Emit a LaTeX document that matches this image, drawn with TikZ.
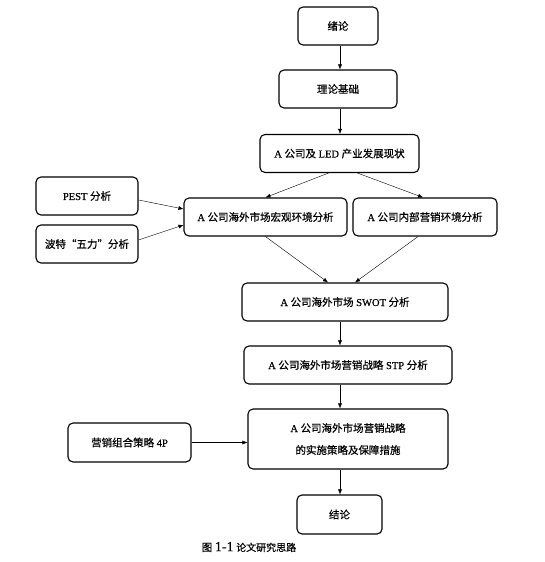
\documentclass[tikz,border=0pt]{standalone}
\usepackage{fontspec}
\setmainfont{Liberation Serif}[FakeBold=0.5]
\newfontfamily\cjk{Noto Sans CJK SC}[FakeBold=0.6]
\usetikzlibrary{arrows.meta}

\begin{document}
\begin{tikzpicture}[x=1pt,y=-1pt,>={Latex[length=5pt,width=4pt]},
  every node/.style={font=\fontsize{10.5}{13}\selectfont,align=center},
  stepbox/.style={draw,line width=1.1pt,rounded corners=5pt,inner sep=0pt,minimum height=38pt}]
\useasboundingbox (0,0) rectangle (545,562);
\coordinate (axis) at (340,0);
\node (intro) [stepbox,minimum width=80pt] at (338,26) {\cjk 绪论};
\node (theory) [stepbox,minimum width=118pt] at (338,89) {\cjk 理论基础};
\node (status) [stepbox,minimum width=159pt] at (339.5,153.5) {A {\cjk 公司及} LED {\cjk 产业发展现状}};
\node (pest) [stepbox,minimum width=102pt] at (87,196) {PEST {\cjk 分析}};
\node (porter) [stepbox,minimum width=102pt] at (87,244) {\cjk 波特“五力”分析};
\node (macro) [stepbox,minimum width=163pt] at (265.5,217) {A {\cjk 公司海外市场宏观环境分析}};
\node (inner) [stepbox,minimum width=144pt] at (425,217) {A {\cjk 公司内部营销环境分析}};
\node (swot) [stepbox,minimum width=206pt] at (345,302) {A {\cjk 公司海外市场} SWOT {\cjk 分析}};
\node (stp) [stepbox,minimum width=208pt] at (348,365) {A {\cjk 公司海外市场营销战略} STP {\cjk 分析}};
\node (impl) [stepbox,minimum width=200pt,minimum height=60pt] at (348,439) {A {\cjk 公司海外市场营销战略}\\[9pt]{\cjk 的实施策略及保障措施}};
\node (mix) [stepbox,minimum width=123pt,minimum height=39pt] at (129.5,442.5) {{\cjk 营销组合策略} 4P};
\node (concl) [stepbox,minimum width=85pt,minimum height=39pt] at (339.5,514.5) {\cjk 结论};
\node (caption) at (249,547) {{\cjk 图} {\fontsize{14}{16}\selectfont 1-1} {\cjk\fontsize{10}{12}\selectfont 论文研究思路}};
% main flow
\draw[->] (intro.south -| axis) -- (theory.north -| axis);
\draw[->] (theory.south -| axis) -- (status.north -| axis);
\draw[->] ([xshift=-11pt]status.south) -- (macro.north);
\draw[->] ([xshift=18pt]status.south) -- ([xshift=-2pt]inner.north);
\draw[->] ([yshift=-4pt]pest.east) -- ([yshift=8pt]macro.west);
\draw[->] ([yshift=4pt]porter.east) -- ([yshift=-8pt]macro.west);
\draw[->] (macro.south) -- ([xshift=-17pt]swot.north);
\draw[->] ([xshift=-7pt]inner.south) -- ([xshift=10pt]swot.north);
\draw[->] (swot.south -| axis) -- (stp.north -| axis);
\draw[->] (stp.south -| axis) -- (impl.north -| axis);
\draw[->] (mix.east) -- (mix.east -| impl.west);
\draw[->] (impl.south -| axis) -- (concl.north -| axis);
\end{tikzpicture}
\end{document}
